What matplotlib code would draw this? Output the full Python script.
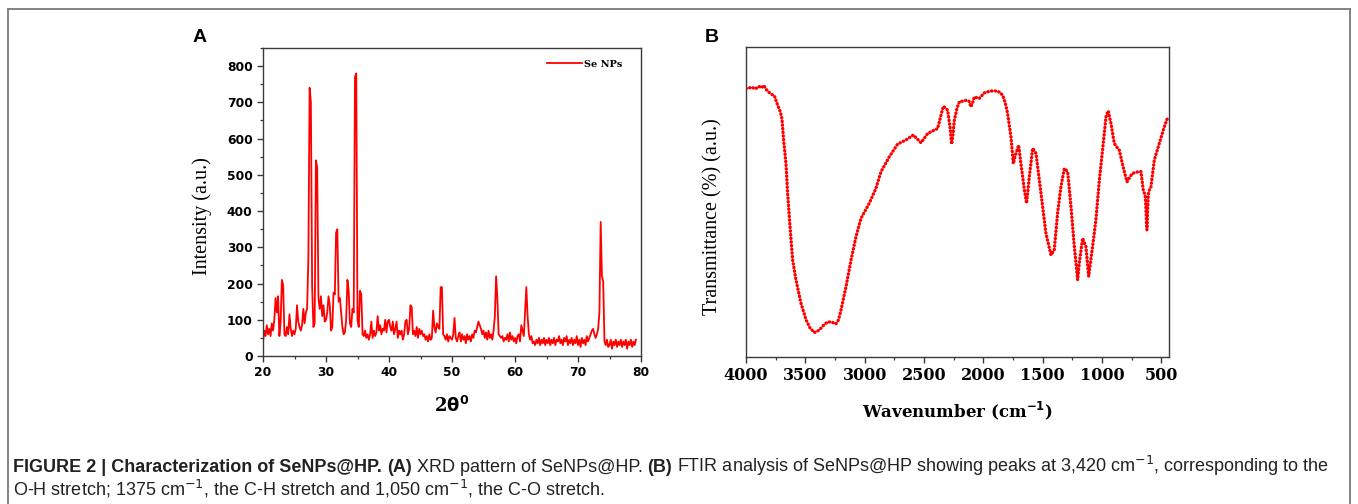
import numpy as np
import matplotlib
matplotlib.use('Agg')
import matplotlib.pyplot as plt
from matplotlib.lines import Line2D
from matplotlib.ticker import MultipleLocator
from matplotlib import font_manager

W, H = 1358, 504
RED   = '#ff0000'
SPINE = '#3a3a3a'

# XRD: intensity read every 0.2 deg from 20.0 (one row per degree)
xrd_intensity = [
    40, 70, 55, 85, 60,        # 20
    75, 55, 90, 70, 100,       # 21
    160, 120, 165, 55, 95,     # 22
    210, 195, 60, 55, 80,      # 23
    60, 115, 75, 55, 70,       # 24
    60, 75, 140, 95, 80,       # 25
    70, 85, 130, 90, 120,      # 26
    130, 270, 740, 700, 190,   # 27
    80, 90, 540, 520, 160,     # 28
    130, 165, 110, 140, 95,    # 29
    100, 120, 165, 140, 70,    # 30
    80, 175, 170, 340, 350,    # 31
    150, 160, 120, 80, 60,     # 32
    65, 100, 210, 180, 90,     # 33
    80, 130, 120, 770, 780,    # 34
    100, 80, 180, 170, 60,     # 35
    55, 70, 50, 60, 45,        # 36
    60, 95, 50, 70, 55,        # 37
    65, 110, 70, 85, 60,       # 38
    75, 70, 100, 65, 95,       # 39
    100, 80, 70, 95, 60,       # 40
    75, 95, 50, 70, 60,        # 41
    70, 45, 60, 95, 100,       # 42
    60, 75, 140, 135, 60,      # 43
    70, 55, 80, 50, 75,        # 44
    60, 70, 55, 60, 45,        # 45
    55, 40, 60, 45, 50,        # 46
    125, 80, 65, 90, 80,       # 47
    75, 190, 190, 60, 55,      # 48
    45, 60, 40, 55, 50,        # 49
    45, 60, 105, 50, 40,       # 50
    55, 65, 40, 60, 45,        # 51
    55, 35, 60, 45, 55,        # 52
    40, 60, 50, 70, 65,        # 53
    80, 95, 85, 75, 60,        # 54
    70, 50, 65, 45, 70,        # 55
    50, 60, 45, 70, 110,       # 56
    220, 160, 60, 55, 50,      # 57
    55, 40, 50, 45, 60,        # 58
    40, 65, 45, 55, 40,        # 59
    50, 35, 55, 60, 40,        # 60
    85, 70, 55, 120, 190,      # 61
    110, 60, 45, 55, 35,       # 62
    40, 30, 45, 35, 50,        # 63
    30, 45, 35, 50, 30,        # 64
    45, 35, 50, 30, 45,        # 65
    35, 50, 30, 45, 40,        # 66
    55, 35, 45, 30, 50,        # 67
    40, 55, 30, 45, 35,        # 68
    50, 30, 45, 35, 55,        # 69
    30, 45, 25, 50, 35,        # 70
    45, 30, 55, 40, 50,        # 71
    60, 70, 75, 60, 50,        # 72
    60, 75, 120, 370, 220,     # 73
    205, 40, 30, 45, 25,       # 74
    30, 45, 20, 40, 30,        # 75
    45, 25, 40, 30, 45,        # 76
    25, 40, 30, 45, 20,        # 77
    40, 30, 45, 25, 40,        # 78
    30, 45,                    # 79
]
two_theta = np.round(20.0 + 0.2 * np.arange(len(xrd_intensity)), 1)

# FTIR: transmittance (arbitrary 0-100 scale, no ticks in the source)
ftir_wavenumber = [
    4000, 3950, 3920, 3890, 3870, 3850, 3820, 3790, 3760, 3733, 3710, 3697,
    3683, 3663, 3649, 3629, 3607, 3579, 3537, 3494, 3460, 3424, 3395, 3368,
    3340, 3312, 3280, 3242, 3220, 3199, 3157, 3115, 3073, 3031, 2961, 2905,
    2862, 2792, 2722, 2652, 2590, 2525, 2469, 2413, 2385, 2360, 2337, 2315,
    2301, 2280, 2267, 2255, 2244, 2220, 2202, 2146, 2120, 2104, 2090, 2076,
    2034, 1992, 1940, 1893, 1860, 1837, 1815, 1795, 1767, 1747, 1725, 1702,
    1683, 1654, 1635, 1612, 1584, 1556, 1528, 1500, 1472, 1430, 1402, 1374,
    1346, 1317, 1289, 1261, 1233, 1205, 1191, 1163, 1135, 1112, 1079, 1051,
    1022, 989, 966, 947, 924, 896, 876, 854, 815, 789, 746, 690,
    671, 652, 635, 621, 610, 600, 587, 559, 517, 475, 444,
]
ftir_transmittance = [
    86.6, 87.0, 86.5, 87.3, 86.8, 87.6, 85.8, 84.9, 84.2, 81.2, 79.0, 76.9,
    70.0, 62.4, 52.8, 42.1, 31.3, 24.9, 17.4, 12.0, 9.3, 7.9, 8.4, 9.3,
    10.5, 11.3, 11.3, 10.7, 12.0, 15.2, 22.7, 31.3, 38.8, 44.7, 49.6, 54.4,
    59.8, 64.6, 68.7, 70.0, 71.6, 69.1, 72.1, 73.2, 73.7, 77.5, 80.9, 80.2,
    79.6, 74.0, 68.7, 72.0, 76.4, 80.5, 82.3, 82.8, 82.5, 80.7, 82.0, 83.9,
    83.4, 85.2, 85.8, 85.8, 85.4, 84.4, 82.0, 78.5, 71.0, 62.4, 65.7, 68.3,
    62.4, 53.9, 49.6, 58.2, 67.3, 65.7, 57.1, 48.5, 39.9, 32.9, 34.5, 46.4,
    54.9, 60.8, 59.8, 48.5, 35.6, 24.9, 30.3, 38.3, 35.6, 26.0, 35.6, 44.2,
    57.1, 68.9, 77.5, 79.4, 75.3, 68.9, 67.8, 66.7, 60.3, 56.5, 59.2, 59.8,
    59.8, 53.9, 52.0, 41.0, 52.3, 54.0, 54.9, 63.5, 68.9, 74.2, 77.5,
]

caption_line1 = [
    ('FIGURE 2 | Characterization of SeNPs@HP.', 'bold'),
    ('(A)', 'bold'),
    ('XRD pattern of SeNPs@HP.', 'normal'),
    ('(B)', 'bold'),
    ('FTIR analysis of SeNPs@HP showing peaks at 3,420 cm$^{-1}$, '
     'corresponding to the', 'normal'),
]
caption_line2 = ('O-H stretch; 1375 cm$^{-1}$, the C-H stretch and '
                 '1,050 cm$^{-1}$, the C-O stretch.')


def pick_font(names):
    for n in names:
        try:
            font_manager.findfont(n, fallback_to_default=False)
            return n
        except ValueError:
            pass
    return 'DejaVu Sans'


CAP_FONT = pick_font(['Liberation Sans Narrow', 'Liberation Sans'])
CAP_SIZE = 11.6 if CAP_FONT == 'Liberation Sans Narrow' else 13.0

plt.rcParams['mathtext.fontset'] = 'dejavusans'

fig = plt.figure(figsize=(W / 100, H / 100), dpi=100)


def fx(px):
    return px / W


def fy(py):
    return 1 - py / H


def style_axes(ax):
    for s in ax.spines.values():
        s.set_color(SPINE)
        s.set_linewidth(1.0)
    ax.tick_params(which='both', direction='out', color=SPINE,
                   top=False, right=False)
    ax.tick_params(which='major', length=4, width=1.0)
    ax.tick_params(which='minor', length=2.5, width=0.9)


# panel A -- XRD
ax_a = fig.add_axes([fx(263), fy(356), fx(641 - 263), (356 - 48) / H])
style_axes(ax_a)
ax_a.plot(two_theta, xrd_intensity, color=RED, lw=1.3, label='Se NPs')
ax_a.set_xlim(20, 80)
ax_a.set_ylim(0, 850)
ax_a.xaxis.set_major_locator(MultipleLocator(10))
ax_a.xaxis.set_minor_locator(MultipleLocator(5))
ax_a.yaxis.set_major_locator(MultipleLocator(100))
ax_a.yaxis.set_minor_locator(MultipleLocator(50))
for lab in ax_a.get_xticklabels() + ax_a.get_yticklabels():
    lab.set_fontfamily('DejaVu Sans')
    lab.set_fontweight('bold')
    lab.set_fontsize(8.8)
ax_a.set_ylabel('Intensity (a.u.)', family='Liberation Serif', fontsize=14.5)
ax_a.yaxis.set_label_coords(-0.135, 0.455)
ax_a.set_xlabel(r'2$\mathbf{\theta}^{\mathbf{0}}$', family='DejaVu Serif',
                fontweight='bold', fontsize=13, labelpad=12)
ax_a.legend(loc='upper right', bbox_to_anchor=(0.975, 0.99), frameon=False,
            handlelength=3.6, handletextpad=0.3,
            prop=dict(family='DejaVu Serif', weight='bold', size=7))

# panel B -- FTIR
ax_b = fig.add_axes([fx(746), fy(357), fx(1169 - 746), (357 - 47) / H])
style_axes(ax_b)
ax_b.plot(ftir_wavenumber, ftir_transmittance, color=RED, lw=2.4,
          ls=(0, (0.1, 1.0)), dash_capstyle='round')
ax_b.set_xlim(4000, 435)
ax_b.set_ylim(0, 100)
ax_b.xaxis.set_major_locator(MultipleLocator(500))
ax_b.xaxis.set_minor_locator(MultipleLocator(250))
ax_b.set_yticks([])
for lab in ax_b.get_xticklabels():
    lab.set_fontfamily('DejaVu Serif')
    lab.set_fontweight('bold')
    lab.set_fontsize(11.5)
ax_b.set_xlabel(r'Wavenumber (cm$^{\mathbf{-1}}$)', family='DejaVu Serif',
                fontweight='bold', fontsize=12, labelpad=11)
ax_b.set_ylabel('Transmittance (%) (a.u.)', family='Liberation Serif',
                fontsize=14.5)
ax_b.yaxis.set_label_coords(-0.056, 0.452)

fig.text(fx(193), fy(37), 'A', family='Liberation Sans', weight='bold',
         fontsize=14, va='center')
fig.text(fx(705), fy(37), 'B', family='Liberation Sans', weight='bold',
         fontsize=14, va='center')

# outer frame (open at the bottom, as cropped in the source)
frame_kw = dict(color='#7a7a7a', lw=1.3, transform=fig.transFigure)
fig.add_artist(Line2D([fx(8), fx(8)], [fy(9), 0], **frame_kw))
fig.add_artist(Line2D([fx(8), fx(1350)], [fy(9), fy(9)], **frame_kw))
fig.add_artist(Line2D([fx(1350), fx(1350)], [fy(9), 0], **frame_kw))

# caption, pieces laid out one after another
renderer = fig.canvas.get_renderer()
probe = fig.text(0, 0, 'x x', family=CAP_FONT, fontsize=CAP_SIZE)
w_sp = probe.get_window_extent(renderer).width
probe.set_text('xx')
w_sp -= probe.get_window_extent(renderer).width
probe.remove()

x = 13
for text, weight in caption_line1:
    t = fig.text(fx(x), fy(472), text, family=CAP_FONT, fontsize=CAP_SIZE,
                 weight=weight, color='#222222', va='baseline')
    x = t.get_window_extent(renderer).x1 + w_sp
fig.text(fx(13), fy(495), caption_line2, family=CAP_FONT, fontsize=CAP_SIZE,
         color='#222222', va='baseline')

fig.savefig('out.png', dpi=100)
